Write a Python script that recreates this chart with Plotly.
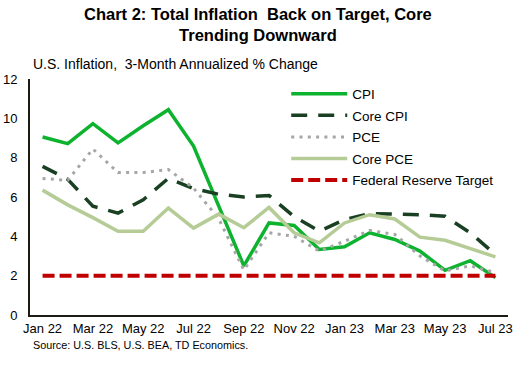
import plotly.graph_objects as go

months = ["Jan 22", "Feb 22", "Mar 22", "Apr 22", "May 22", "Jun 22", "Jul 22", "Aug 22",
          "Sep 22", "Oct 22", "Nov 22", "Dec 22", "Jan 23", "Feb 23", "Mar 23", "Apr 23",
          "May 23", "Jun 23", "Jul 23"]
cpi = [9.05, 8.71, 9.73, 8.75, 9.62, 10.44, 8.59, 5.5, 2.5, 4.68, 4.55, 3.33, 3.47, 4.18, 3.84, 3.25, 2.27, 2.76, 1.9]
core_cpi = [7.56, 6.9, 5.53, 5.18, 5.86, 6.95, 6.43, 6.14, 6.0, 6.08, 5.0, 4.26, 4.85, 5.15, 5.13, 5.1, 5.02, 4.18, 3.08]
pce = [6.94, 6.85, 8.44, 7.24, 7.24, 7.4, 6.45, 4.9, 2.29, 4.18, 4.0, 3.25, 3.75, 4.3, 4.1, 3.0, 2.24, 2.5, 2.15]
core_pce = [6.35, 5.6, 4.95, 4.26, 4.26, 5.44, 4.42, 5.13, 4.44, 5.47, 4.18, 3.67, 4.68, 5.1, 4.88, 3.96, 3.8, 3.37, 2.96]
fed_target = [2.0] * len(months)

tick_idx = list(range(0, len(months), 2))
tick_text = [months[i] for i in tick_idx]
x = list(range(len(months)))

FONT = "Liberation Sans, Arial, sans-serif"

fig = go.Figure()
series = [
    ("CPI", cpi, dict(color="#0db32f", width=3.5)),
    ("Core CPI", core_cpi, dict(color="#1a4024", width=3.5, dash="16px,11px")),
    ("PCE", pce, dict(color="#a6a6a6", width=3, dash="3px,5.3px")),
    ("Core PCE", core_pce, dict(color="#b5cc96", width=3.5)),
    ("Federal Reserve Target", fed_target, dict(color="#c00000", width=4, dash="12px,5px")),
]
for name, vals, line in series:
    fig.add_trace(go.Scatter(x=x, y=vals, mode="lines", name=name, line=line,
                             legendgroup=name, hoverinfo="skip"))

fig.update_layout(
    width=518, height=385,
    margin=dict(l=30, r=10, t=79, b=70, autoexpand=False),
    paper_bgcolor="white", plot_bgcolor="white",
    font=dict(family=FONT, size=13, color="#000000"),
    showlegend=True,
    legend=dict(x=0.536, y=1.002, xanchor="left", yanchor="top",
                font=dict(family=FONT, size=13.5), bgcolor="rgba(0,0,0,0)",
                traceorder="grouped", tracegroupgap=1, itemwidth=56),
    xaxis=dict(range=[-0.5, len(months) - 0.5], tickvals=tick_idx, ticktext=tick_text,
               showgrid=False, zeroline=False, showline=True, linecolor="#1c1c14", linewidth=2,
               ticks="", tickfont=dict(size=13), automargin=False, fixedrange=True),
    yaxis=dict(range=[0, 12], dtick=2, showgrid=False, zeroline=False, showline=True,
               linecolor="#1c1c14", linewidth=2, ticks="", tickfont=dict(size=13),
               ticklabelstandoff=8, automargin=False, fixedrange=True),
    annotations=[
        dict(text="<b>Chart 2: Total Inflation\u00a0 Back on Target, Core<br>Trending Downward</b>",
             x=(258 - 30) / 478, y=(315 - 25) / 236, xref="paper", yref="paper",
             xanchor="center", yanchor="middle", showarrow=False,
             font=dict(family=FONT, size=16.5, color="#000000")),
        dict(text="U.S. Inflation,\u00a0 3-Month Annualized % Change", x=0.002, y=(315 - 64) / 236,
             xref="paper", yref="paper", xanchor="left", yanchor="middle", showarrow=False,
             font=dict(family=FONT, size=14)),
        dict(text="Source: U.S. BLS, U.S. BEA, TD Economics.", x=0.002, y=(315 - 345) / 236,
             xref="paper", yref="paper", xanchor="left", yanchor="middle", showarrow=False,
             font=dict(family=FONT, size=10.8)),
    ],
)

fig.write_html("out.html", config={"displayModeBar": False},
               post_script="document.body.style.margin='0';document.body.style.overflow='hidden';")
